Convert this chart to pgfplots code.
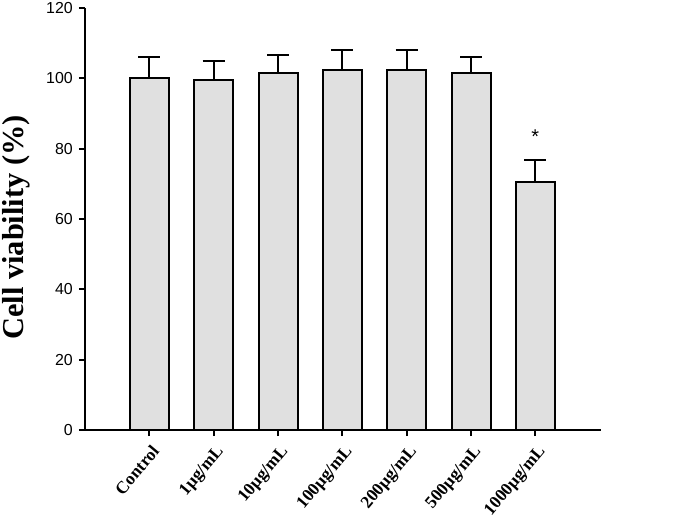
\documentclass[border=0pt]{standalone}
\usepackage{pgfplots}
\pgfplotsset{compat=1.18}
\usepackage{fontspec}
\setmainfont{Liberation Serif}
\setsansfont{Liberation Sans}
\definecolor{barfill}{RGB}{224,224,224}
\begin{document}
\begin{tikzpicture}
\useasboundingbox (-85bp,-87bp) rectangle (592bp,430bp);
\begin{axis}[
  at={(0,0)}, anchor=south west,
  scale only axis,
  width=516bp, height=422bp,
  xmin=-1, xmax=7.02,
  ymin=0, ymax=120,
  axis x line*=bottom,
  axis y line*=left,
  axis line style={line width=1.8bp},
  every tick/.style={line width=1.8bp, black},
  tick align=outside,
  major tick length=6bp,
  xtick={0,1,2,3,4,5,6},
  xticklabels={Control, 1μg/mL, 10μg/mL, 100μg/mL, 200μg/mL, 500μg/mL, 1000μg/mL},
  ytick={0,20,40,60,80,100,120},
  xticklabel style={font=\bfseries\fontsize{17.5}{17.5}\selectfont, rotate=50, anchor=north east, inner sep=1bp, xshift=-4bp, yshift=-5bp},
  yticklabel style={font=\sffamily\fontsize{16}{16}\selectfont, inner sep=2bp, xshift=-4bp},
  /pgf/number format/assume math mode=true,
  ylabel={Cell viability (\%)},
  ylabel style={font=\bfseries\fontsize{30.5}{30.5}\selectfont, at={(axis description cs:-0.133,0.48)}, anchor=center},
]
\addplot[ybar, bar width=39bp, fill=barfill, draw=black, line width=2bp,
  error bars/.cd, y dir=plus, y explicit,
  error bar style={line width=2bp, black},
  error mark options={rotate=90, mark size=11bp, line width=2bp, black}]
coordinates {
  (0,100.1) +- (0,5.9)
  (1,99.5) +- (0,5.3)
  (2,101.6) +- (0,4.9)
  (3,102.3) +- (0,5.7)
  (4,102.4) +- (0,5.6)
  (5,101.4) +- (0,4.7)
  (6,70.5) +- (0,6.3)
};
\node[font=\sffamily\fontsize{20}{20}\selectfont] at (axis cs:6,83.5) {*};
\end{axis}
\end{tikzpicture}
\end{document}
